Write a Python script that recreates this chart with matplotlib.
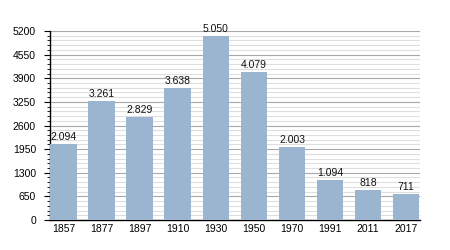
import matplotlib
matplotlib.use("Agg")
import matplotlib.pyplot as plt
from matplotlib.ticker import MultipleLocator

years = ["1857", "1877", "1897", "1910", "1930", "1950", "1970", "1991", "2011", "2017"]
population = [2094, 3261, 2829, 3638, 5050, 4079, 2003, 1094, 818, 711]
labels = ["2.094", "3.261", "2.829", "3.638", "5.050", "4.079", "2.003", "1.094", "818", "711"]

plt.rcParams['font.family'] = ['Liberation Sans', 'DejaVu Sans']
fig = plt.figure(figsize=(4.5, 2.5), dpi=100)
ax = fig.add_axes([0.111, 0.12, 0.822, 0.756])

x = range(len(years))
ax.bar(x, population, width=0.7, color="#9bb4d0", zorder=3)
for xi, v, lab in zip(x, population, labels):
    ax.text(xi, v + 60, lab, ha="center", va="bottom", fontsize=7.5, color="#111111", zorder=4)

ax.set_xlim(-0.36, len(years) - 0.64)
ax.set_ylim(0, 5200)
ax.yaxis.set_major_locator(MultipleLocator(650))
ax.yaxis.set_minor_locator(MultipleLocator(130))
ax.grid(axis="y", which="major", color="#a8a8a8", linewidth=0.8, zorder=0)
ax.grid(axis="y", which="minor", color="#dedede", linewidth=0.8, zorder=0)
ax.set_xticks(list(x))
ax.set_xticklabels(years)
ax.tick_params(axis="x", length=0, labelsize=7.5, pad=3)
ax.tick_params(axis="y", which="major", length=4, labelsize=7.5, direction="out", pad=6)
ax.tick_params(axis="y", which="minor", length=2.5, direction="out")
for s in ["top", "right"]:
    ax.spines[s].set_visible(False)
ax.spines["left"].set_linewidth(1.0)
ax.spines["bottom"].set_linewidth(1.0)

fig.savefig("out.png", dpi=100)
